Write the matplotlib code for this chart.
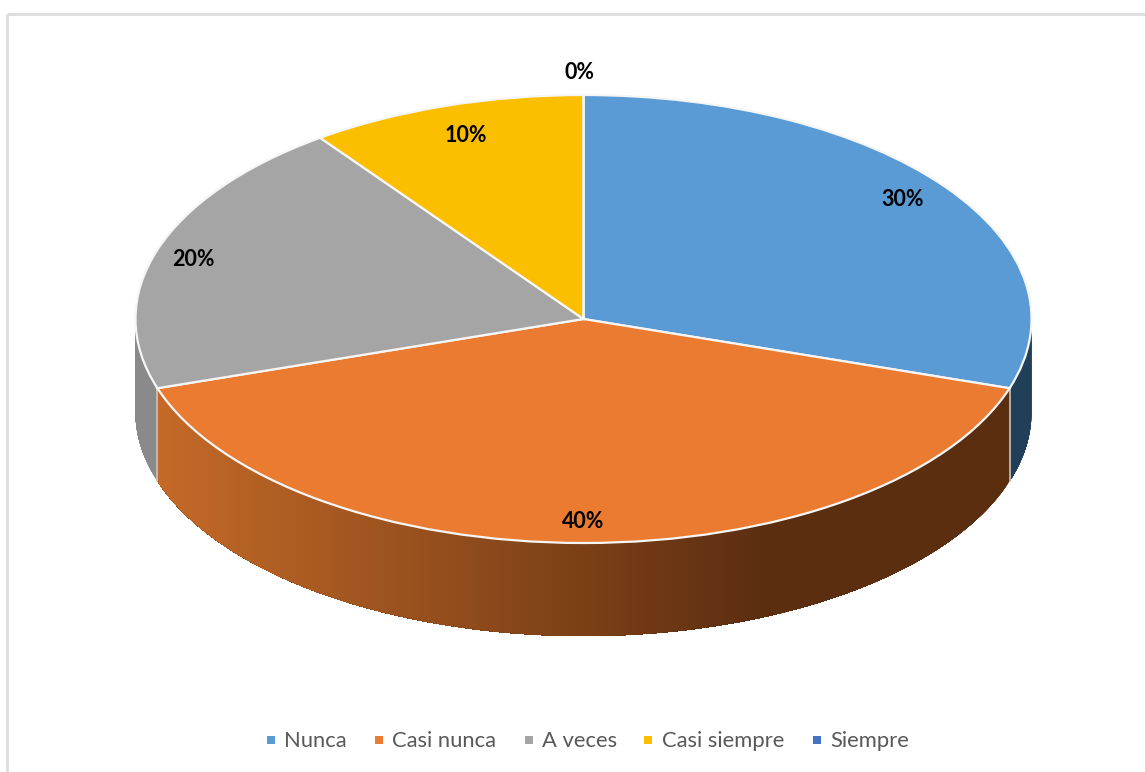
import numpy as np
import matplotlib
matplotlib.use("Agg")
import matplotlib.pyplot as plt

plt.rcParams['font.family'] = ['Lato', 'DejaVu Sans']

# data
categories = ['Nunca', 'Casi nunca', 'A veces', 'Casi siempre', 'Siempre']
values = [30, 40, 20, 10, 0]
pct_labels = ['30%', '40%', '20%', '10%', '0%']
colors = ['#5B9BD5', '#EB7B30', '#A5A5A5', '#FBBF00', '#4472C4']

# where the labels sit, as a fraction of the ellipse radii along the mid angle
label_rx = [0.88, 0.90, 0.915, 0.85, 0.0]
label_ry = [0.905, 0.905, 0.86, 0.86, 1.10]

# pie geometry in pixels
W, H = 1145, 772
CX, CY, RX, RY = 583.5, 319, 448, 224
DEPTH = 93


def wall_color(i, x):
    # the side of the pie gets darker going right, only the orange one shows it
    if i == 1:
        r = np.interp(x, [157, 760], [197, 92])
        g = np.interp(x, [157, 760], [106, 46])
        b = np.interp(x, [157, 760], [40, 16])
        return (r / 255, g / 255, b / 255)
    if i == 0:
        return '#223F59'
    if i == 2:
        return '#8A8A8A'
    return '#7A5C00'


fig = plt.figure(figsize=(W / 100, H / 100), dpi=100)

# unit circle axes, stretched so that the pie comes out as an ellipse
ax = fig.add_axes([0, 0, 1, 1])
ax.pie(values, colors=colors, startangle=90, counterclock=False, radius=1,
       wedgeprops={'edgecolor': '#F6F6F6', 'linewidth': 1.6, 'zorder': 3})
ax.set_aspect('auto')
ax.set_xlim(-CX / RX, (W - CX) / RX)
ax.set_ylim((CY - H) / RY, CY / RY)
ax.axis('off')

# side wall, only the front half of the pie can be seen
# every strip runs on to the end of its slice and the next one paints over it, no seams that way
d = DEPTH / RY
edges = np.cumsum([0] + values) * 3.6
for i in range(len(values)):
    a0 = max(edges[i], 90)
    a1 = min(edges[i + 1], 270)
    if a1 <= a0:
        continue
    for p in np.arange(a0, a1, 0.5):
        t = np.radians(np.linspace(p, a1, 200))
        xs = np.sin(t)
        ys = np.cos(t)
        c = wall_color(i, CX + RX * np.sin(np.radians(p + 0.25)))
        ax.fill(np.r_[xs, xs[::-1]], np.r_[ys, ys[::-1] - d],
                facecolor=c, edgecolor='none', zorder=1)

# thin light lines where two walls meet
for e in edges[1:-1]:
    if 90 < e < 270:
        x = np.sin(np.radians(e))
        y = np.cos(np.radians(e))
        ax.plot([x, x], [y, y - d], color='#C9C4C0', lw=1.2, zorder=2)

# data labels
mids = (edges[:-1] + edges[1:]) / 2
for i, txt in enumerate(pct_labels):
    x = label_rx[i] * np.sin(np.radians(mids[i]))
    y = label_ry[i] * np.cos(np.radians(mids[i]))
    if values[i] == 0:
        x = -0.01
    ax.text(x, y, txt, ha='center', va='center', fontsize=15.5, fontweight='bold',
            color='black', zorder=5)

# overlay in pixels for the frame and the legend
ov = fig.add_axes([0, 0, 1, 1], facecolor='none')
ov.set_xlim(0, W)
ov.set_ylim(H, 0)
ov.axis('off')
ov.plot([7, 7], [H, 14], color='#DDDDDD', lw=2, solid_capstyle='butt')
ov.plot([7, W], [14, 14], color='#DDDDDD', lw=2, solid_capstyle='butt')

legend_x = [271, 379, 529, 648, 817]
for name, c, x in zip(categories, colors, legend_x):
    ov.plot([x], [740], marker='s', ms=5.5, color=c, mew=0)
    ov.text(x + 13.5, 741, name, ha='left', va='center', fontsize=15.8, color='#595959')

fig.savefig('out.png', dpi=100, facecolor='white')
